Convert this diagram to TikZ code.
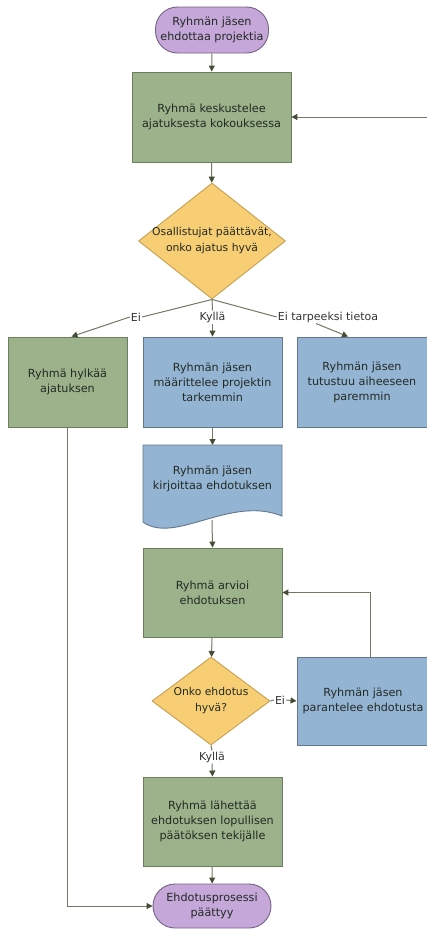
\documentclass[tikz,border=0pt]{standalone}
\usepackage{fontspec}
\setmainfont{DejaVu Sans}
\usetikzlibrary{shapes.geometric,arrows.meta}
\definecolor{gfill}{RGB}{155,178,138}
\definecolor{gdraw}{RGB}{108,126,94}
\definecolor{bfill}{RGB}{148,180,211}
\definecolor{bdraw}{RGB}{98,118,140}
\definecolor{pfill}{RGB}{197,168,217}
\definecolor{pdraw}{RGB}{118,98,134}
\definecolor{yfill}{RGB}{248,206,116}
\definecolor{ydraw}{RGB}{198,160,82}
\definecolor{lcol}{RGB}{112,122,98}
\definecolor{tipcol}{RGB}{68,78,54}
\definecolor{tcol}{RGB}{34,42,36}
\begin{document}
\begin{tikzpicture}[x=1pt,y=-1pt,
  txt/.style={inner sep=0pt,align=center,text=tcol,font=\fontsize{11.2}{15}\selectfont},
  dtxt/.style={txt,font=\fontsize{10.8}{16}\selectfont},
  base/.style={txt,line width=0.9pt},
  gbox/.style={base,rectangle,fill=gfill,draw=gdraw},
  bbox/.style={base,rectangle,fill=bfill,draw=bdraw},
  term/.style={base,rectangle,rounded corners=22pt,fill=pfill,draw=pdraw},
  dec/.style={base,diamond,fill=yfill,draw=ydraw},
  lbl/.style={inner sep=1pt,text=black!80,font=\fontsize{11}{12}\selectfont},
  conn/.style={draw=lcol,line width=1pt},
  arr/.style={conn,-{Triangle[length=6pt,width=6pt,fill=tipcol,color=tipcol]}}
]
\useasboundingbox (0,0) rectangle (426,929);
% nodes
\node[term,minimum width=113pt,minimum height=46pt] (start) at (212,30) {Ryhmän jäsen\\ehdottaa projektia};
\node[gbox,minimum width=159pt,minimum height=90pt] (meet) at (211.5,117) {Ryhmä keskustelee\\ajatuksesta kokouksessa};
\node[dec,minimum width=147pt,minimum height=116pt,label={[dtxt]center:Osallistujat päättävät,\\onko ajatus hyvä}] (d1) at (212,241) {};
\node[gbox,minimum width=119pt,minimum height=90pt] (rej) at (67.5,382) {Ryhmä hylkää\\ajatuksen};
\node[bbox,minimum width=139pt,minimum height=90pt] (def) at (212.5,382) {Ryhmän jäsen\\määrittelee projektin\\tarkemmin};
\node[bbox,minimum width=130pt,minimum height=90pt] (study) at (362,382) {Ryhmän jäsen\\tutustuu aiheeseen\\paremmin};
% document shape
\path[fill=bfill,draw=bdraw,line width=0.9pt] (143,445) -- (282,445) -- (282,516)
  .. controls (230,495) and (175,545) .. (143,522) -- cycle;
\node[txt] (doc) at (212.5,479) {Ryhmän jäsen\\kirjoittaa ehdotuksen};
\coordinate (docb) at (212,520);
\node[gbox,minimum width=139pt,minimum height=89pt] (eval) at (212.5,592.5) {Ryhmä arvioi\\ehdotuksen};
\node[dec,minimum width=118pt,minimum height=88pt,label={[dtxt]center:Onko ehdotus\\hyvä?}] (d2) at (211,701) {};
\node[bbox,minimum width=132pt,minimum height=88pt] (impr) at (363,701) {Ryhmän jäsen\\parantelee ehdotusta};
\node[gbox,minimum width=139pt,minimum height=89pt] (send) at (212.5,821.5) {Ryhmä lähettää\\ehdotuksen lopullisen\\päätöksen tekijälle};
\node[term,minimum width=118pt,minimum height=44pt] (end) at (212,906) {Ehdotusprosessi\\päättyy};
% labels
\node[lbl] (ei1) at (136,317) {Ei};
\node[lbl] (ky1) at (212.5,317) {Kyllä};
\node[lbl] (eit) at (328,317) {Ei tarpeeksi tietoa};
\node[lbl] (ei2) at (280,700) {Ei};
\node[lbl] (ky2) at (212,757) {Kyllä};
\coordinate (fb) at (427,117);
% connectors
\draw[arr] (start) -- (meet);
\draw[arr] (meet) -- (d1);
\draw[conn] (d1.south) -- (ei1.east);
\draw[arr] (ei1.west) -- ([xshift=4pt]rej.north);
\draw[conn] (d1.south) -- (ky1.north);
\draw[arr] (ky1.south) -- (def.north);
\draw[conn] (d1.south) -- (eit.west);
\draw[arr] ([xshift=-12pt]eit.south) -- ([xshift=-14pt]study.north);
\draw[arr] (fb) -- (meet.east);
\draw[arr] (def.south) -- (doc.north |- 0,445);
\draw[arr] (docb) -- (eval.north);
\draw[arr] (eval) -- (d2);
\draw[conn] (d2.east) -- (ei2.west);
\draw[arr] (ei2.east) -- (impr.west);
\draw[arr] ([xshift=7pt]impr.north) |- (eval.east);
\draw[conn] (d2.south) -- (ky2.north);
\draw[arr] (ky2.south) -- (send.north);
\draw[arr] (send) -- (end);
\draw[arr] (rej.south) |- (end.west);
\end{tikzpicture}
\end{document}
